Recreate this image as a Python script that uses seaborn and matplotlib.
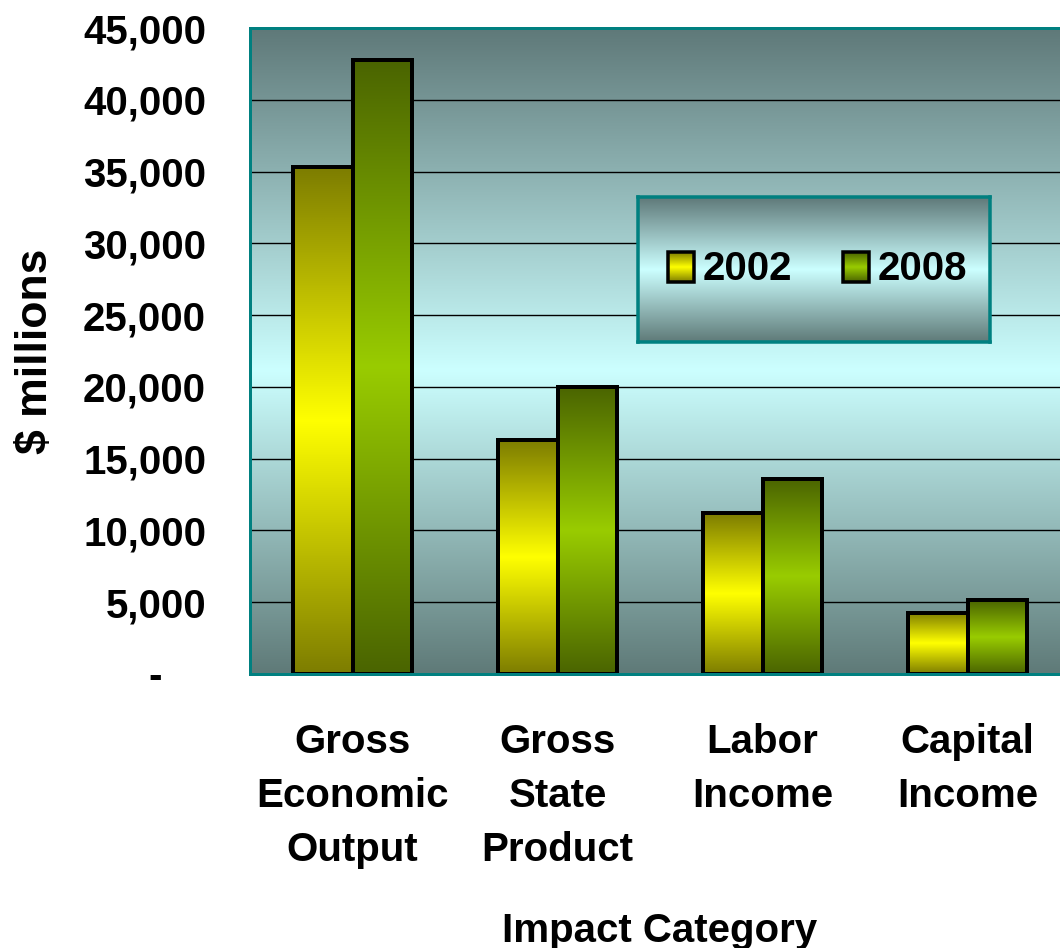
import numpy as np
import pandas as pd
import matplotlib
matplotlib.use("Agg")
import matplotlib.pyplot as plt
import seaborn as sns
from matplotlib.colors import LinearSegmentedColormap, to_rgb
from matplotlib.patches import Rectangle
from matplotlib.ticker import FuncFormatter

# ---------------- data ----------------
categories = ["Gross\nEconomic\nOutput", "Gross\nState\nProduct", "Labor\nIncome", "Capital\nIncome"]
years = ["2002", "2008"]
values_2002 = [35300, 16300, 11200, 4250]
values_2008 = [42800, 20000, 13600, 5150]
y_ticks = [0, 5000, 10000, 15000, 20000, 25000, 30000, 35000, 40000, 45000]
y_label = "$ millions"
x_label = "Impact Category"

df = pd.DataFrame({
    "category": categories * 2,
    "year": [years[0]] * len(categories) + [years[1]] * len(categories),
    "value": values_2002 + values_2008,
})

# ---------------- style ----------------
sns.set_theme(style="white")
plt.rcParams["font.family"] = ["Liberation Sans", "DejaVu Sans"]
plt.rcParams["font.weight"] = "bold"

W, H = 1060, 948
PX = 72 / 100  # points per pixel at dpi 100
fig = plt.figure(figsize=(W / 100, H / 100), dpi=100)
ax = fig.add_axes([250 / W, (H - 674) / H, 820 / W, 646 / H])

light = {"2002": "#ffff00", "2008": "#99cc00"}
dark = {"2002": "#7d7d00", "2008": "#4a6400"}
bg_dark_top = "#5f7979"
bg_light = "#ccffff"
bg_dark_bot = "#5f7a78"
teal = "#008080"

grad = np.linspace(0, 1, 256).reshape(-1, 1)


def cmap3(c1, c2, c3, mid=0.5):
    return LinearSegmentedColormap.from_list("g", [(0, c1), (mid, c2), (1, c3)])


sns.barplot(data=df, x="category", y="value", hue="year", order=categories,
            hue_order=years, palette=[light[y] for y in years], width=0.576,
            edgecolor="black", linewidth=4 * PX, saturation=1, legend=False, ax=ax)

# background gradient
ax.imshow(grad, extent=[0, 1, 0, 1], transform=ax.transAxes, origin="lower",
          cmap=cmap3(bg_dark_bot, bg_light, bg_dark_top, 0.47), aspect="auto",
          zorder=0.1, interpolation="bicubic")

# gradient bars
for p in list(ax.patches):
    fc = to_rgb(p.get_facecolor())
    yr = min(years, key=lambda y: np.sum((np.array(fc) - np.array(to_rgb(light[y]))) ** 2))
    x0, w, h = p.get_x(), p.get_width(), p.get_height()
    im = ax.imshow(grad, extent=[x0, x0 + w, 0, h], origin="lower",
                   cmap=cmap3(dark[yr], light[yr], dark[yr]), aspect="auto",
                   zorder=2.4, interpolation="bicubic")
    im.set_clip_path(p)
    p.set_facecolor("none")
    p.set_zorder(2.5)

ax.set_xlim(-0.5, len(categories) - 0.5)
ax.set_ylim(0, 45000)

# grid
ax.set_axisbelow(True)
ax.yaxis.grid(True, color="black", linewidth=1.0)
ax.xaxis.grid(False)

# y axis
ax.set_yticks(y_ticks)
ax.yaxis.set_major_formatter(FuncFormatter(lambda v, pos: "" if v == 0 else f"{int(v):,}"))
ax.tick_params(axis="y", which="major", direction="out", length=12 * PX, width=1,
               color="#333333", pad=32 * PX, labelsize=29, labelcolor="black")
ax.annotate("-", xy=(0, 0), xycoords=("axes fraction", "data"),
            xytext=(-88 * PX, -3 * PX), textcoords="offset points", ha="right", va="center",
            fontsize=29, fontweight="bold", color="black")

# x axis
ax.set_xticks(np.arange(-0.5, len(categories)), [""] * (len(categories) + 1))
ax.set_xticks(np.arange(len(categories)), categories, minor=True)
ax.tick_params(axis="x", which="major", direction="out", length=12 * PX, width=1,
               color="#555555")
ax.tick_params(axis="x", which="minor", length=0, pad=49 * PX, labelsize=29,
               labelcolor="black")
for lab in ax.get_xticklabels(minor=True):
    lab.set_fontweight("bold")
    lab.set_multialignment("center")
    lab.set_linespacing(1.53)

ax.set_xlabel(x_label, fontsize=29, fontweight="bold", color="black")
ax.xaxis.set_label_coords(0.5, -0.368)
ax.xaxis.label.set_va("top")
ax.set_ylabel(y_label, fontsize=32, fontweight="bold", color="black")
ax.yaxis.set_label_coords(-0.236, 0.5)

for s in ax.spines.values():
    s.set_color(teal)
    s.set_linewidth(3 * PX)
    s.set_visible(True)

# ---------------- legend box ----------------
lx0, ly0, lx1, ly1 = 638, 197, 990, 342
lax = fig.add_axes([lx0 / W, (H - ly1) / H, (lx1 - lx0) / W, (ly1 - ly0) / H])
lax.imshow(grad, extent=[0, 1, 0, 1], origin="lower",
           cmap=cmap3(bg_dark_bot, bg_light, bg_dark_top), aspect="auto",
           interpolation="bicubic", zorder=0)
lax.set_xlim(0, 1)
lax.set_ylim(0, 1)
lax.set_xticks([])
lax.set_yticks([])
for s in lax.spines.values():
    s.set_color(teal)
    s.set_linewidth(3.5 * PX)

lw_, lh_ = lx1 - lx0, ly1 - ly0
for yr, sx, tx in [("2002", 668, 703), ("2008", 843, 878)]:
    rx = (sx - lx0) / lw_
    ry = (ly1 - 282) / lh_
    rw = 26 / lw_
    rh = 30 / lh_
    rect = Rectangle((rx, ry), rw, rh, facecolor="none", edgecolor="black",
                     linewidth=3.5 * PX, zorder=3)
    lax.add_patch(rect)
    im = lax.imshow(grad, extent=[rx, rx + rw, ry, ry + rh], origin="lower",
                    cmap=cmap3(dark[yr], light[yr], dark[yr]), aspect="auto",
                    zorder=2, interpolation="bicubic")
    im.set_clip_path(rect)
    lax.text((tx - lx0) / lw_, (ly1 - 269) / lh_, yr, fontsize=29, fontweight="bold",
             ha="left", va="center", color="black")
lax.set_xlim(0, 1)
lax.set_ylim(0, 1)

fig.savefig("out.png", dpi=100)
